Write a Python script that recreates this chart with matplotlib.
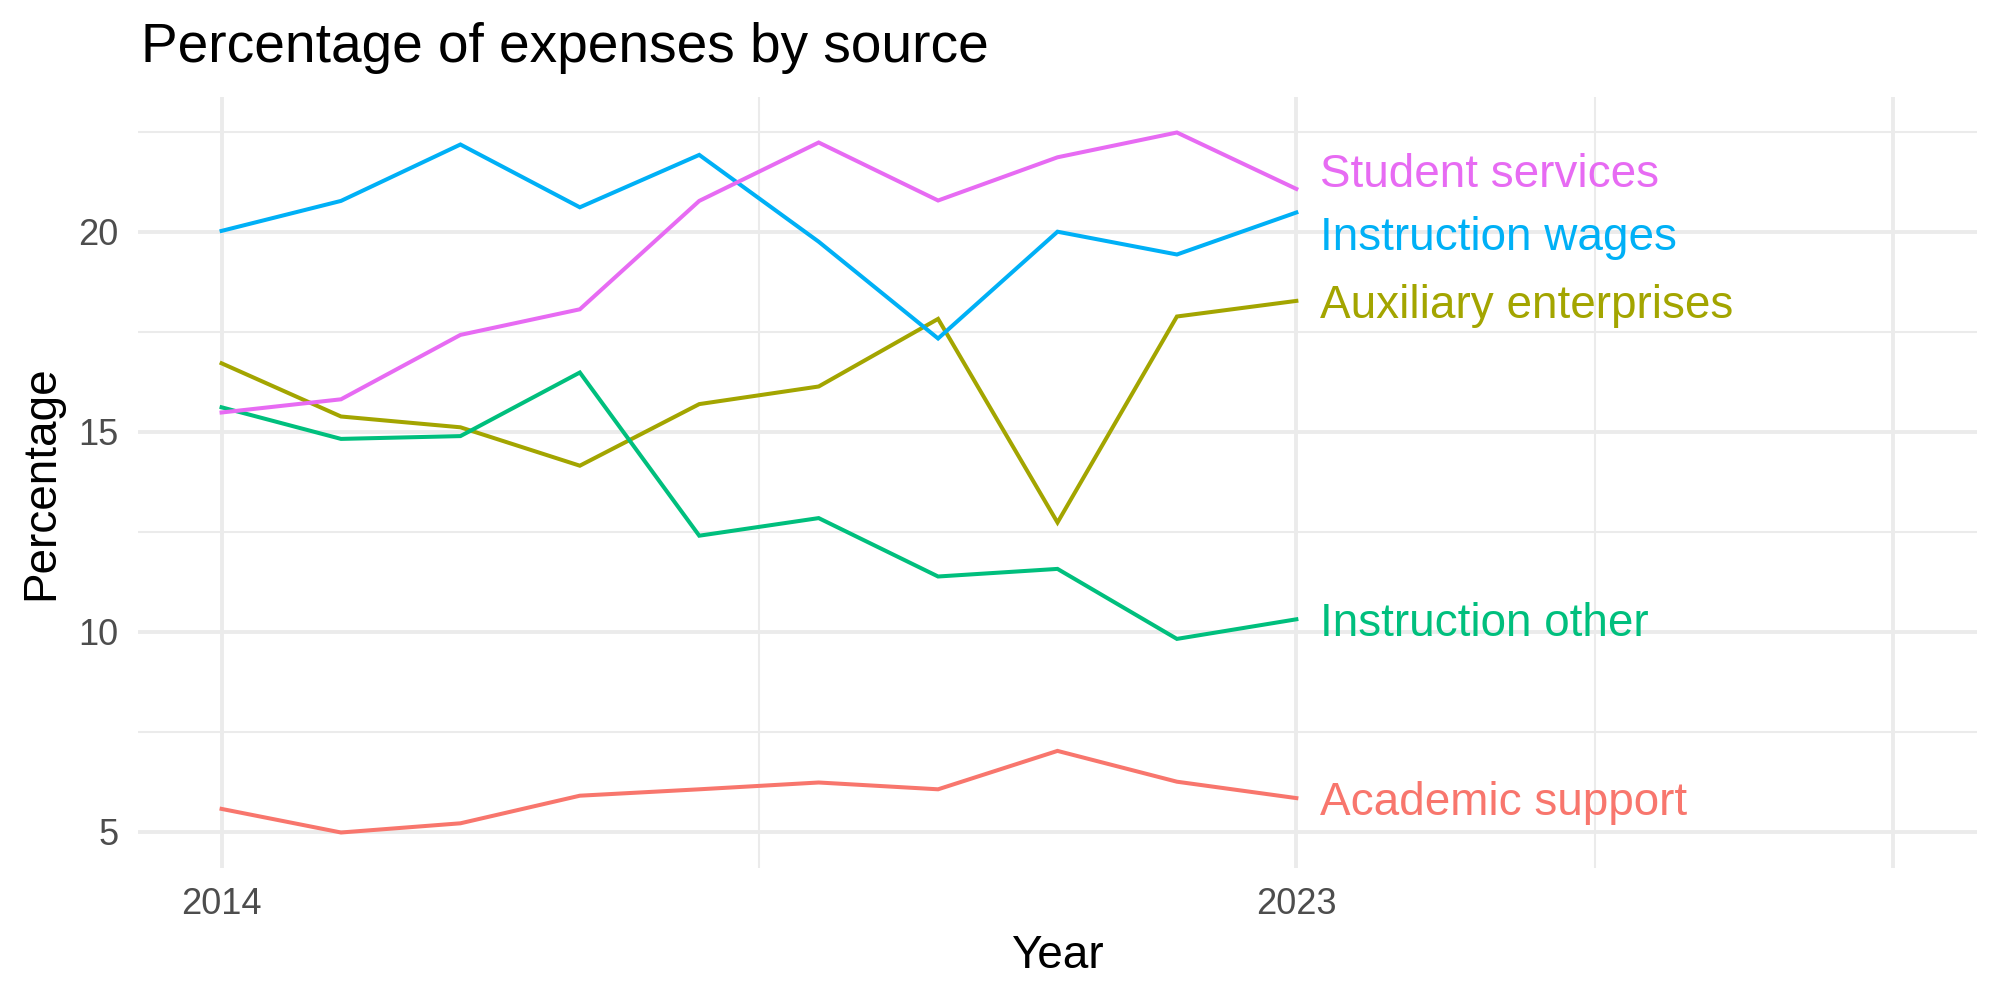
import numpy as np
import matplotlib
matplotlib.use("Agg")
import matplotlib.pyplot as plt
from matplotlib.ticker import FixedLocator

plt.rcParams['font.family'] = ['Liberation Sans', 'DejaVu Sans']

years = [2014, 2015, 2016, 2017, 2018, 2019, 2020, 2021, 2022, 2023]
academic_support = [5.57, 4.98, 5.21, 5.90, 6.06, 6.23, 6.06, 7.02, 6.25, 5.84]
auxiliary_enterprises = [16.71, 15.38, 15.11, 14.15, 15.69, 16.13, 17.82, 12.73, 17.88, 18.27]
instruction_other = [15.61, 14.82, 14.89, 16.48, 12.40, 12.84, 11.38, 11.57, 9.82, 10.31]
instruction_wages = [20.02, 20.77, 22.18, 20.61, 21.92, 19.75, 17.33, 20.00, 19.43, 20.48]
student_services = [15.48, 15.81, 17.42, 18.06, 20.77, 22.23, 20.78, 21.86, 22.48, 21.07]

sources = ['Academic support', 'Auxiliary enterprises', 'Instruction other',
           'Instruction wages', 'Student services']
series = [academic_support, auxiliary_enterprises, instruction_other,
          instruction_wages, student_services]
colors = ['#F8766D', '#A3A500', '#00BF7D', '#00B0F6', '#E76BF3']
# label heights (two top labels are nudged apart)
label_y = [5.84, 18.27, 10.31, 19.97, 21.54]

x_breaks = [2014, 2023, 2028]
x_labels = ['2014', '2023', '']
x_minor = [2018.5, 2025.5]
y_breaks = [5, 10, 15, 20]
y_minor = [7.5, 12.5, 17.5, 22.5]

fig = plt.figure(figsize=(10, 5), dpi=200)
ax = fig.add_axes([0.069, 0.1325, 0.9195, 0.77])

for name, vals, c, ly in zip(sources, series, colors, label_y):
    ax.plot(years, vals, color=c, lw=1.45, solid_joinstyle='miter', zorder=3)
    ax.annotate(name, (years[-1], ly), xytext=(8.5, -6), textcoords='offset points',
                va='baseline', ha='left', color=c, fontsize=16.5, zorder=4)

# ggplot-like expansion (5%)
xr = (2014, 2028)
xpad = (xr[1] - xr[0]) * 0.05
ax.set_xlim(xr[0] - xpad, xr[1] + xpad)
allv = np.concatenate([np.array(s) for s in series])
ypad = (allv.max() - allv.min()) * 0.05
ax.set_ylim(allv.min() - ypad, allv.max() + ypad)

ax.xaxis.set_major_locator(FixedLocator(x_breaks))
ax.set_xticklabels(x_labels)
ax.xaxis.set_minor_locator(FixedLocator(x_minor))
ax.yaxis.set_major_locator(FixedLocator(y_breaks))
ax.yaxis.set_minor_locator(FixedLocator(y_minor))

ax.grid(which='major', color='#EBEBEB', lw=1.4, zorder=0)
ax.grid(which='minor', color='#EBEBEB', lw=0.75, zorder=0)
ax.set_axisbelow(True)
for s in ax.spines.values():
    s.set_visible(False)
ax.tick_params(which='both', length=0)
ax.tick_params(axis='x', labelsize=13, colors='#4D4D4D', pad=7)
ax.tick_params(axis='y', labelsize=13, colors='#4D4D4D', pad=7)

ax.set_xlabel('Year', fontsize=16.5, labelpad=4.5)
ax.set_ylabel('Percentage', fontsize=16.5, labelpad=5.3)
fig.text(0.0705, 0.938, 'Percentage of expenses by source', fontsize=19.8,
         ha='left', va='baseline')

fig.savefig('out.png', dpi=200, facecolor='white')
